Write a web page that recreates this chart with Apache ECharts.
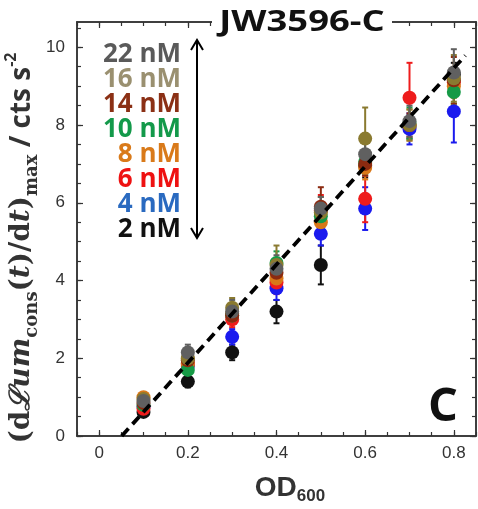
<!DOCTYPE html>
<html><head><meta charset="utf-8">
<script src="https://cdn.jsdelivr.net/npm/echarts@6/dist/echarts.min.js"></script>
<style>html,body{margin:0;padding:0;background:#fff}#c{width:478px;height:509px}</style>
</head><body><div id="c"></div>
<script>
// ---- data ----
const odValues = [0.1, 0.2, 0.3, 0.4, 0.5, 0.6, 0.7, 0.8];
const seriesNames = ['2 nM', '4 nM', '6 nM', '8 nM', '10 nM', '14 nM', '16 nM', '22 nM'];
const v2  = [0.62, 1.40, 2.15, 3.20, 4.40, 6.95, 7.95, 9.30];
const v4  = [0.75, 1.80, 2.55, 3.80, 5.20, 5.85, 7.90, 8.35];
const v6  = [0.70, 1.85, 3.00, 3.95, 5.80, 6.10, 8.70, 9.10];
const v8  = [1.00, 1.85, 3.15, 4.05, 5.50, 6.90, 8.00, 9.00];
const v10 = [0.80, 1.70, 3.10, 4.45, 5.65, 7.05, 8.05, 8.85];
const v14 = [0.85, 1.95, 3.10, 4.20, 5.90, 7.00, 8.00, 9.15];
const v16 = [0.95, 2.00, 3.30, 4.40, 5.75, 7.65, 8.00, 9.20];
const v22 = [0.90, 2.15, 3.20, 4.30, 5.85, 7.25, 8.10, 9.35];
const e2  = [0.10, 0.15, 0.20, 0.30, 0.50, 0.30, 0.30, 0.30];
const e4  = [0.10, 0.10, 0.20, 0.30, 0.30, 0.55, 0.40, 0.80];
const e6  = [0.10, 0.10, 0.20, 0.30, 0.40, 0.60, 0.90, 0.30];
const e8  = [0.10, 0.10, 0.20, 0.30, 0.30, 0.30, 0.40, 0.30];
const e10 = [0.10, 0.10, 0.15, 0.30, 0.30, 0.30, 0.40, 0.30];
const e14 = [0.10, 0.10, 0.20, 0.30, 0.50, 0.30, 0.30, 0.60];
const e16 = [0.10, 0.15, 0.25, 0.50, 0.40, 0.80, 0.40, 0.60];
const e22 = [0.10, 0.20, 0.30, 0.35, 0.30, 0.30, 0.40, 0.60];
const fitX = [0.051, 0.826];
const fitY = [0, 9.79];
const xTickLabels = [0, 0.2, 0.4, 0.6, 0.8];
const xMinorTicks = [-0.05,0,0.05,0.1,0.15,0.2,0.25,0.3,0.35,0.4,0.45,0.5,0.55,0.6,0.65,0.7,0.75,0.8,0.85];
const yTickLabels = [0, 2, 4, 6, 8, 10];
const yMinorTicks = [0,0.5,1,1.5,2,2.5,3,3.5,4,4.5,5,5.5,6,6.5,7,7.5,8,8.5,9,9.5,10,10.5];
const legendLabels = ['22 nM', '16 nM', '14 nM', '10 nM', '8 nM', '6 nM', '4 nM', '2 nM'];

const values = [v2, v4, v6, v8, v10, v14, v16, v22];
const errors = [e2, e4, e6, e8, e10, e14, e16, e22];
const markerColors = ['#111111', '#1a1aee', '#ee1c1c', '#d97818', '#169a46', '#8b2a10', '#8a7a30', '#606060'];
const legendColors = {'22 nM':'#5a5a5a','16 nM':'#9a9070','14 nM':'#8b3015','10 nM':'#13994a','8 nM':'#d97a1a','6 nM':'#ee1111','4 nM':'#2a6ac0','2 nM':'#111111'};

const chart = echarts.init(document.getElementById('c'), null, {renderer: 'canvas'});
const X_MIN = -0.05, X_MAX = 0.85, Y_MIN = 0, Y_MAX = 10.65;
const lblFont = {fontFamily: 'Liberation Sans, Arial, sans-serif', fontSize: 17, color: '#333'};

function xAx(pos, ticks, len, labels) {
  return {type:'value', position: pos, min: X_MIN, max: X_MAX, gridIndex: 0,
    axisLine: {show: true, onZero: false, lineStyle: {color: '#333', width: 1.5}},
    axisTick: {show: true, inside: true, length: len, customValues: ticks, lineStyle: {color: '#333', width: 1.2}},
    axisLabel: labels ? Object.assign({show: true, margin: 9, customValues: xTickLabels, formatter: v => String(+v.toFixed(1))}, lblFont) : {show: false},
    splitLine: {show: false}};
}
function yAx(pos, ticks, len, labels) {
  return {type:'value', position: pos, min: Y_MIN, max: Y_MAX, gridIndex: 0,
    axisLine: {show: true, onZero: false, lineStyle: {color: '#333', width: 1.5}},
    axisTick: {show: true, inside: true, length: len, customValues: ticks, lineStyle: {color: '#333', width: 1.2}},
    axisLabel: labels ? Object.assign({show: true, margin: 12, customValues: yTickLabels}, lblFont) : {show: false},
    splitLine: {show: false}};
}

const series = [];
values.forEach((vals, si) => {
  series.push({
    type: 'custom', name: seriesNames[si] + ' err', xAxisIndex: 0, yAxisIndex: 0, z: 2,
    data: odValues.map((x, i) => [x, vals[i], errors[si][i]]),
    renderItem: function (params, api) {
      const x = api.value(0), y = api.value(1), e = api.value(2);
      const t = api.coord([x, y + e]), b = api.coord([x, y - e]);
      const c = markerColors[si], w = 3;
      const st = {stroke: c, lineWidth: 2};
      return {type: 'group', children: [
        {type: 'line', shape: {x1: t[0], y1: t[1], x2: b[0], y2: b[1]}, style: st},
        {type: 'line', shape: {x1: t[0]-w, y1: t[1], x2: t[0]+w, y2: t[1]}, style: st},
        {type: 'line', shape: {x1: b[0]-w, y1: b[1], x2: b[0]+w, y2: b[1]}, style: st}
      ]};
    }
  });
});
values.forEach((vals, si) => {
  series.push({
    type: 'scatter', name: seriesNames[si], xAxisIndex: 0, yAxisIndex: 0, z: 3,
    symbol: 'circle', symbolSize: 14,
    itemStyle: {color: markerColors[si], opacity: 1},
    data: odValues.map((x, i) => [x, vals[i]])
  });
});
series.push({
  type: 'line', name: 'fit', xAxisIndex: 0, yAxisIndex: 0, z: 5, symbol: 'none', silent: true,
  lineStyle: {color: '#000', width: 3.8, type: [10, 6]},
  data: fitX.map((x, i) => [x, fitY[i]])
});

const graphics = [];
// title (covers the top frame line)
graphics.push({type: 'rect', z: 10, shape: {x: 212, y: 10, width: 180, height: 26}, style: {fill: '#fff'}});
graphics.push({type: 'text', z: 11, x: 302, y: 23, scaleX: 1.3, style: {text: 'JW3596-C', align: 'center', verticalAlign: 'middle',
  font: 'bold 28px "Open Sans", Lato, sans-serif', fill: '#111'}});
legendLabels.forEach((t, i) => {
  graphics.push({type: 'text', x: 181, y: 55 + i * 25, style: {text: t, align: 'right', verticalAlign: 'middle',
    font: 'bold 26px "Open Sans", Lato, sans-serif', fill: legendColors[t]}});
});
graphics.push({type: 'line', shape: {x1: 197, y1: 40, x2: 197, y2: 238}, style: {stroke: '#000', lineWidth: 2}});
graphics.push({type: 'polyline', shape: {points: [[191, 50], [197, 40], [203, 50]]}, style: {stroke: '#000', lineWidth: 2, fill: null}});
graphics.push({type: 'polyline', shape: {points: [[191, 228], [197, 238], [203, 228]]}, style: {stroke: '#000', lineWidth: 2, fill: null}});
graphics.push({type: 'text', x: 443, y: 408, style: {text: 'C', align: 'center', verticalAlign: 'middle',
  font: 'bold 47px "Open Sans", Lato, sans-serif', fill: '#111'}});
graphics.push({type: 'text', x: 22, y: 248, rotation: Math.PI / 2, style: {
  text: '{p|(d}{i|ℒum}{sb|cons}{p|(}{i|t}{p|)/d}{i|t}{p|)}{sb|max}{u| / cts s}{sp|-2}',
  align: 'center', verticalAlign: 'middle',
  rich: {
    p: {fontFamily: 'DejaVu Serif', fontWeight: 'bold', fontSize: 28, fill: '#333', lineHeight: 38, verticalAlign: 'middle'},
    i: {fontFamily: 'DejaVu Serif', fontWeight: 'bold', fontStyle: 'italic', fontSize: 28, fill: '#333', lineHeight: 38, verticalAlign: 'middle'},
    sb: {fontFamily: 'DejaVu Serif', fontWeight: 'bold', fontSize: 18, fill: '#333', lineHeight: 38, verticalAlign: 'bottom', padding: [11, 0, 0, 0]},
    u: {fontFamily: '"Open Sans", Lato', fontWeight: 'bold', fontSize: 28, fill: '#333', lineHeight: 38, verticalAlign: 'middle'},
    sp: {fontFamily: '"Open Sans", Lato', fontWeight: 'bold', fontSize: 16, fill: '#333', lineHeight: 38, verticalAlign: 'top'}
  }
}});
graphics.push({type: 'text', x: 290, y: 488, style: {
  text: '{a|OD}{b|600}', align: 'center', verticalAlign: 'middle',
  rich: {
    a: {fontFamily: 'Liberation Sans', fontWeight: 'bold', fontSize: 28, fill: '#333', lineHeight: 34, verticalAlign: 'middle'},
    b: {fontFamily: 'Liberation Sans', fontWeight: 'bold', fontSize: 17, fill: '#333', lineHeight: 34, verticalAlign: 'bottom', padding: [9, 0, 0, 0]}
  }
}});

chart.setOption({
  animation: false,
  backgroundColor: '#fff',
  grid: {left: 77, right: 2, top: 22, bottom: 73, containLabel: false},
  xAxis: [xAx('bottom', xTickLabels, 6, true), xAx('bottom', xMinorTicks, 4, false),
          xAx('top', xTickLabels, 6, false), xAx('top', xMinorTicks, 4, false)],
  yAxis: [yAx('left', yTickLabels, 6, true), yAx('left', yMinorTicks, 4, false),
          yAx('right', yTickLabels, 6, false), yAx('right', yMinorTicks, 4, false)],
  series: series,
  graphic: graphics
});
</script></body></html>
